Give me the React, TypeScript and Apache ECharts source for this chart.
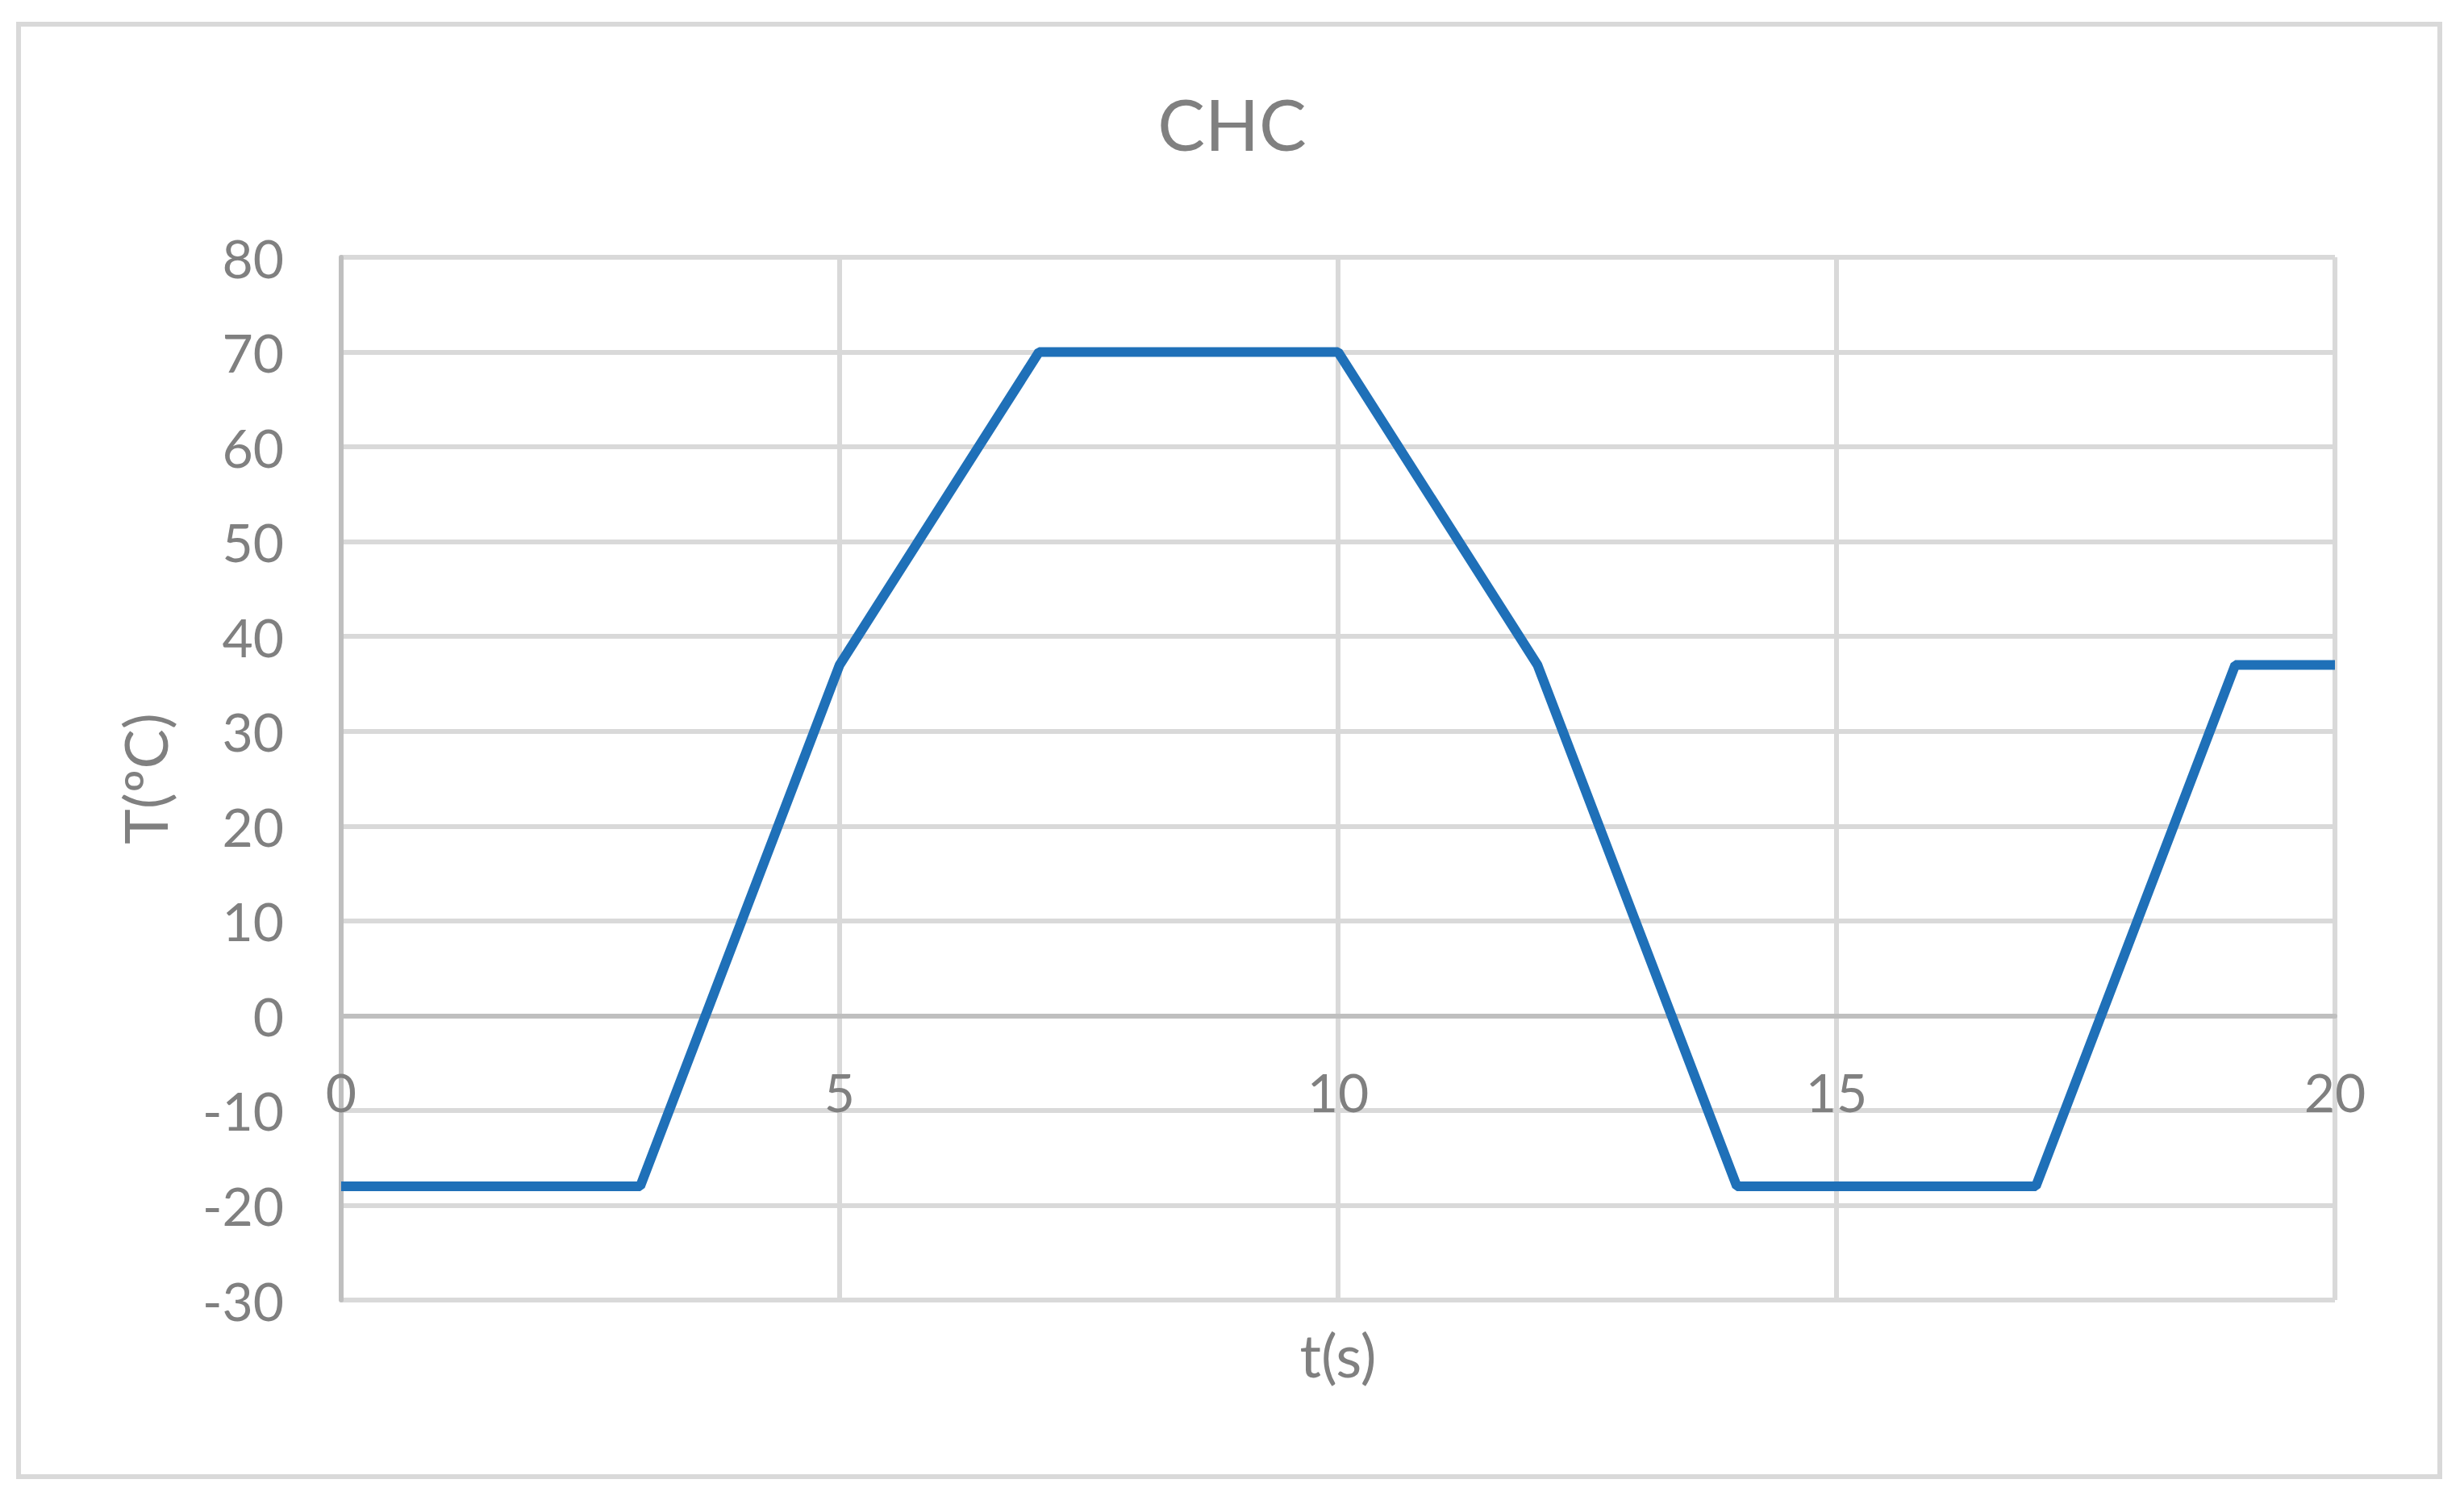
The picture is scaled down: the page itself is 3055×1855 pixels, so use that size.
import React, { useEffect, useRef } from "react";
import * as echarts from "echarts";

const timeValues: number[] = [0, 3, 5, 7, 10, 12, 14, 17, 19, 20];
const tempValues: number[] = [-18, -18, 37, 70, 70, 37, -18, -18, 37, 37];
const chartTitle = "CHC";
const xAxisTitle = "t(s)";
const yAxisTitle = "T(ºC)";

const FONT = "Lato, 'Open Sans', sans-serif";
const GRAY_TEXT = "#808080";
const GRID_COLOR = "#D9D9D9";
const AXIS_COLOR = "#BFBFBF";

export default function App() {
  const ref = useRef<HTMLDivElement>(null);

  useEffect(() => {
    if (!ref.current) return;
    const chart = echarts.init(ref.current, undefined, { renderer: "svg" });
    const data = timeValues.map((t, i) => [t, tempValues[i]]);
    chart.setOption({
      animation: false,
      backgroundColor: "#ffffff",
      title: {
        text: chartTitle,
        left: "center",
        top: 104,
        textStyle: { fontFamily: FONT, fontSize: 88, fontWeight: "normal", color: GRAY_TEXT },
      },
      graphic: [
        {
          type: "rect",
          shape: { x: 23, y: 30, width: 3002, height: 1801 },
          style: { fill: "none", stroke: GRID_COLOR, lineWidth: 6 },
          silent: true,
          z: -1,
        },
      ],
      grid: {
        left: 423,
        right: 160,
        top: 319,
        bottom: 243,
        containLabel: false,
        outerBoundsMode: "none",
      },
      xAxis: {
        type: "value",
        min: 0,
        max: 20,
        interval: 5,
        name: xAxisTitle,
        nameLocation: "middle",
        nameGap: 30,
        nameMoveOverlap: false,
        nameTextStyle: { fontFamily: FONT, fontSize: 74, color: GRAY_TEXT, verticalAlign: "top" },
        axisLine: { show: true, onZero: true, lineStyle: { color: AXIS_COLOR, width: 6 } },
        axisTick: { show: false },
        axisLabel: { margin: -292, fontFamily: FONT, fontSize: 66, color: GRAY_TEXT },
        splitLine: { show: true, lineStyle: { color: GRID_COLOR, width: 6 } },
      },
      yAxis: {
        type: "value",
        min: -30,
        max: 80,
        interval: 10,
        name: yAxisTitle,
        nameLocation: "middle",
        nameRotate: 90,
        nameGap: 207,
        nameTextStyle: { fontFamily: FONT, fontSize: 74, color: GRAY_TEXT },
        axisLine: { show: true, lineStyle: { color: AXIS_COLOR, width: 6 } },
        axisTick: { show: false },
        axisLabel: { margin: 71, fontFamily: FONT, fontSize: 66, color: GRAY_TEXT },
        splitLine: { show: true, lineStyle: { color: GRID_COLOR, width: 6 } },
      },
      series: [
        {
          type: "line",
          data,
          showSymbol: false,
          symbol: "none",
          lineStyle: { color: "#1F70B8", width: 12 },
          z: 5,
        },
      ],
    });
    return () => chart.dispose();
  }, []);

  return (
    <div
      ref={ref}
      style={{ position: "absolute", left: 0, top: 0, width: 3055, height: 1855 }}
    />
  );
}
